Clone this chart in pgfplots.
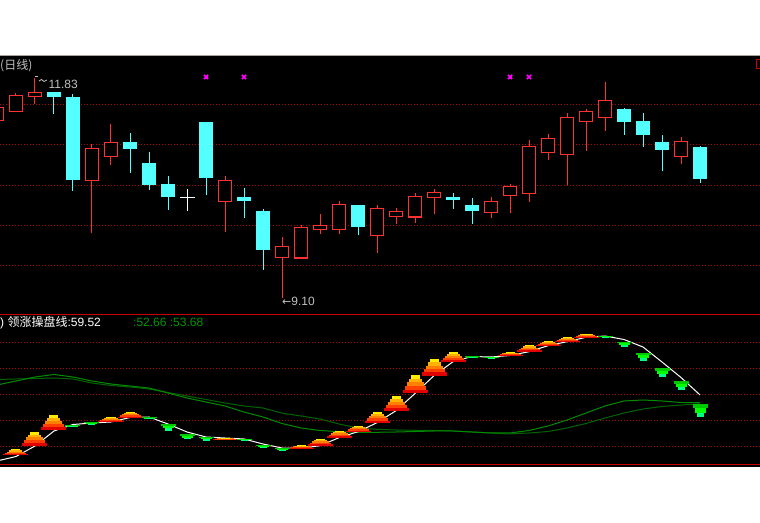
\documentclass[border=0pt]{standalone}
\usepackage{pgfplots}
\pgfplotsset{compat=1.18}
\usepackage{pgfplotstable}
\usepackage{fontspec}
\setmainfont{Liberation Sans}
\newfontfamily\cjk{Noto Sans CJK SC}
\newfontfamily\dejavu{DejaVu Sans}

\definecolor{candlered}{RGB}{255,50,50}
\definecolor{candlecyan}{RGB}{84,255,255}
\definecolor{gridred}{RGB}{176,0,0}
\definecolor{sepred}{RGB}{200,0,0}
\definecolor{labelgray}{RGB}{192,192,192}
\definecolor{framegray}{RGB}{168,164,156}
\definecolor{pyrA}{RGB}{224,0,0}
\definecolor{pyrB}{RGB}{255,64,0}
\definecolor{pyrC}{RGB}{255,128,0}
\definecolor{pyrD}{RGB}{255,176,0}
\definecolor{pyrE}{RGB}{255,236,0}
\definecolor{grnA}{RGB}{0,200,0}
\definecolor{grnB}{RGB}{0,255,0}
\definecolor{grnC}{RGB}{0,255,128}
\definecolor{mafast}{RGB}{0,140,0}
\definecolor{maslow}{RGB}{0,100,0}
\definecolor{lblgreen}{RGB}{0,150,0}
\definecolor{markmag}{RGB}{255,0,255}

% candles: i, body top, body bottom, high, low
\pgfplotstableread{
i t b h l
-1 11.471 11.301 11.500 11.280
0 11.621 11.413 11.649 11.413
1 11.658 11.600 11.832 11.509
4 10.961 10.555 11.007 9.908
5 11.036 10.853 11.260 10.750
11 10.560 10.294 10.613 9.917
14 9.743 9.597 9.854 9.100
15 9.979 9.585 10.000 9.585
16 10.004 9.945 10.141 9.892
17 10.265 9.945 10.302 9.892
19 10.215 9.871 10.252 9.659
20 10.178 10.107 10.215 10.016
21 10.364 10.095 10.402 10.029
22 10.414 10.343 10.451 10.141
25 10.302 10.153 10.352 10.091
26 10.489 10.368 10.514 10.153
27 10.986 10.393 11.061 10.290
28 11.086 10.903 11.136 10.812
29 11.347 10.878 11.397 10.505
30 11.422 11.289 11.447 10.924
31 11.558 11.338 11.782 11.173
35 11.049 10.853 11.098 10.762
}\redc
\pgfplotstableread{
i t b h l
2 11.662 11.600 11.662 11.384
3 11.596 10.563 11.633 10.430
6 11.036 10.949 11.148 10.654
7 10.775 10.505 10.912 10.443
8 10.514 10.356 10.613 10.190
10 11.285 10.588 11.285 10.381
12 10.352 10.302 10.464 10.091
13 10.178 9.693 10.203 9.444
18 10.252 9.979 10.252 9.879
23 10.352 10.315 10.402 10.203
24 10.252 10.178 10.340 10.016
32 11.447 11.289 11.459 11.123
33 11.297 11.123 11.397 10.974
34 11.036 10.937 11.123 10.675
36 10.974 10.576 10.986 10.526
}\cyanc
\pgfplotstableread{
i t b h l
9 10.348 10.348 10.451 10.178
}\dojic

% indicator lines: main line, fast MA, slow MA
\pgfplotstableread{
i v f s
-1 8.69 67.15 71.38
0 12.15 70.23 71.77
1 20.23 73.31 72.15
2 31.77 75.23 72.54
3 36.77 73.31 71.77
4 37.92 70.23 68.69
5 38.69 67.92 66.77
6 42.15 66.38 65.62
7 42.54 64.85 64.08
8 37.15 61.00 61.38
9 31.00 57.15 58.69
10 27.15 54.08 56.00
11 26.38 51.00 53.31
12 25.62 46.38 51.00
13 21.77 42.54 49.46
14 18.69 37.54 45.50
15 18.46 34.08 43.31
16 20.46 32.15 41.00
17 26.62 31.23 37.15
18 31.23 30.77 34.08
19 38.15 30.77 33.08
20 47.38 31.00 32.54
21 60.62 31.38 32.30
22 74.31 31.77 32.15
23 85.08 31.77 31.77
24 89.08 31.00 31.00
25 88.69 30.23 30.23
26 89.85 30.23 29.46
27 92.77 32.15 30.23
28 97.38 35.62 31.38
29 100.46 40.23 34.08
30 103.85 45.62 37.54
31 104.85 51.00 41.77
32 102.15 54.85 45.62
33 96.38 55.62 48.69
34 84.85 54.85 50.62
35 72.92 53.69 51.77
36 59.52 53.68 52.66
}\malines

% rising pyramids: base, top
\pgfplotstableread{
i b t
0 13.08 17.92
1 20.46 31.00
2 32.31 44.08
5 38.46 42.54
6 42.00 46.38
11 25.38 26.62
15 18.46 21.00
16 20.46 25.85
17 26.62 32.00
18 31.23 35.62
19 38.15 46.38
20 47.38 58.92
21 60.77 74.85
22 74.31 87.15
23 85.08 92.54
26 89.85 92.54
27 92.77 97.92
28 97.38 101.00
29 100.46 104.08
30 103.85 106.62
}\pyr

% falling markers: top, bottom
\pgfplotstableread{
i t b
3 36.38 34.85
4 38.46 36.38
7 42.77 40.77
8 37.15 32.00
9 29.46 25.38
10 27.15 24.31
12 25.85 24.85
13 21.00 18.69
14 18.46 16.38
24 89.23 88.15
25 88.92 87.38
31 104.85 104.08
32 100.46 96.62
33 92.00 85.62
34 80.46 73.31
35 70.23 63.54
36 52.54 42.54
}\gpyr

% vertical bar segment from a table: table, top expr, length expr, width, colour
\newcommand{\ebar}[5]{%
\addplot[draw=none, mark=none, forget plot,
  error bars/.cd, y dir=minus, y explicit, error mark=none,
  error bar style={draw=#5, line width=#4}]
  table[x=i, y expr={#2}, y error minus expr={#3}] {#1};}

\begin{document}
\begin{tikzpicture}
\useasboundingbox (0pt,0pt) rectangle (760pt,522pt);
\fill[white] (0pt,0pt) rectangle (760pt,522pt);
\fill[black] (0pt,55.3pt) rectangle (760pt,465.7pt);
\fill[framegray] (0pt,465.7pt) rectangle (760pt,467.3pt);

% ---------- price panel ----------
\begin{axis}[at={(0pt,207.7pt)}, anchor=south west, scale only axis,
  width=760pt, height=258.3pt,
  xmin=-0.842, xmax=39.158, ymin=8.893, ymax=12.106,
  axis line style={draw=none}, major tick length=0pt,
  xtick=\empty, ytick={9.5,10,10.5,11,11.5}, yticklabels={},
  ymajorgrids, grid style={gridred, line width=1pt, dash pattern=on 1pt off 2pt}]
% wicks
\ebar{\redc}{\thisrow{h}}{\thisrow{h}-\thisrow{l}}{1pt}{candlered}
\ebar{\cyanc}{\thisrow{h}}{\thisrow{h}-\thisrow{l}}{1pt}{candlecyan}
\ebar{\dojic}{\thisrow{h}}{\thisrow{h}-\thisrow{l}}{1pt}{white}
% bodies
\ebar{\redc}{\thisrow{t}}{\thisrow{t}-\thisrow{b}}{14.5pt}{candlered}
\ebar{\redc}{\thisrow{t}-0.0145}{max(\thisrow{t}-\thisrow{b}-0.029,0)}{12.2pt}{black}
\ebar{\cyanc}{\thisrow{t}}{max(\thisrow{t}-\thisrow{b},0.015)}{14.5pt}{candlecyan}
\ebar{\dojic}{\thisrow{t}+0.008}{0.016}{15pt}{white}
% signal marks
\addplot[only marks, mark=x, mark size=3pt, line width=1.6pt, color=markmag]
  coordinates {(10,11.845) (12,11.845) (26,11.845) (27,11.845)};
\addplot[only marks, mark=square*, mark size=1.2pt, color=markmag]
  coordinates {(10,11.845) (26,11.845)};
\end{axis}

% ---------- indicator panel ----------
\begin{axis}[at={(0pt,57.7pt)}, anchor=south west, scale only axis,
  width=760pt, height=150pt,
  xmin=-0.842, xmax=39.158, ymin=6.15, ymax=121.54,
  separate axis lines,
  x axis line style={sepred, line width=1.3pt},
  y axis line style={draw=none},
  major tick length=0pt,
  xtick=\empty, ytick={20,40,60,80,100}, yticklabels={},
  ymajorgrids, grid style={gridred, line width=1pt, dash pattern=on 1pt off 2pt}]
\addplot[maslow, line width=1pt, mark=none] table[x=i, y=s] {\malines};
\addplot[mafast, line width=1pt, mark=none] table[x=i, y=f] {\malines};
\addplot[white, line width=1pt, mark=none] table[x=i, y=v] {\malines};
% rising pyramids (5 layers)
\ebar{\pyr}{\thisrow{b}+1*(\thisrow{t}-\thisrow{b})/5}{(\thisrow{t}-\thisrow{b})/5}{25pt}{pyrA}
\ebar{\pyr}{\thisrow{b}+2*(\thisrow{t}-\thisrow{b})/5}{(\thisrow{t}-\thisrow{b})/5}{21pt}{pyrB}
\ebar{\pyr}{\thisrow{b}+3*(\thisrow{t}-\thisrow{b})/5}{(\thisrow{t}-\thisrow{b})/5}{17pt}{pyrC}
\ebar{\pyr}{\thisrow{b}+4*(\thisrow{t}-\thisrow{b})/5}{(\thisrow{t}-\thisrow{b})/5}{13pt}{pyrD}
\ebar{\pyr}{\thisrow{t}}{(\thisrow{t}-\thisrow{b})/5}{9pt}{pyrE}
% falling markers (3 layers)
\ebar{\gpyr}{\thisrow{t}}{(\thisrow{t}-\thisrow{b})/3}{15pt}{grnA}
\ebar{\gpyr}{\thisrow{t}-(\thisrow{t}-\thisrow{b})/3}{(\thisrow{t}-\thisrow{b})/3}{11pt}{grnB}
\ebar{\gpyr}{\thisrow{t}-2*(\thisrow{t}-\thisrow{b})/3}{(\thisrow{t}-\thisrow{b})/3}{7pt}{grnC}
\end{axis}

% ---------- texts ----------
\node[anchor=west, inner sep=0pt, text=labelgray, font=\cjk\fontsize{12}{14}\selectfont] at (0pt,456pt) {(日线)};
\draw[labelgray, line width=0.8pt] (35pt,446pt) -- (38pt,446pt);
\draw[labelgray, line width=0.8pt] (39pt,441pt) -- (41.5pt,442.5pt) -- (44pt,440.5pt) -- (47pt,442pt);
\node[anchor=west, inner sep=0pt, text=labelgray, font=\fontsize{12}{14}\selectfont] at (48.5pt,437.5pt) {11.83};
\node[anchor=west, inner sep=0pt, text=labelgray, font=\fontsize{12}{14}\selectfont] at (282pt,221pt) {{\dejavu\fontsize{11}{14}\selectfont ←}9.10};
\node[anchor=west, inner sep=0pt, text=white, font=\fontsize{12}{14}\selectfont] at (0pt,199.5pt) {) {\cjk 领涨操盘线}:59.52};
\node[anchor=west, inner sep=0pt, text=lblgreen, font=\fontsize{12}{14}\selectfont] at (133pt,199.5pt) {:52.66 :53.68};
\draw[sepred, line width=1pt] (756.5pt,462pt) rectangle (766pt,453pt);
\end{tikzpicture}
\end{document}
